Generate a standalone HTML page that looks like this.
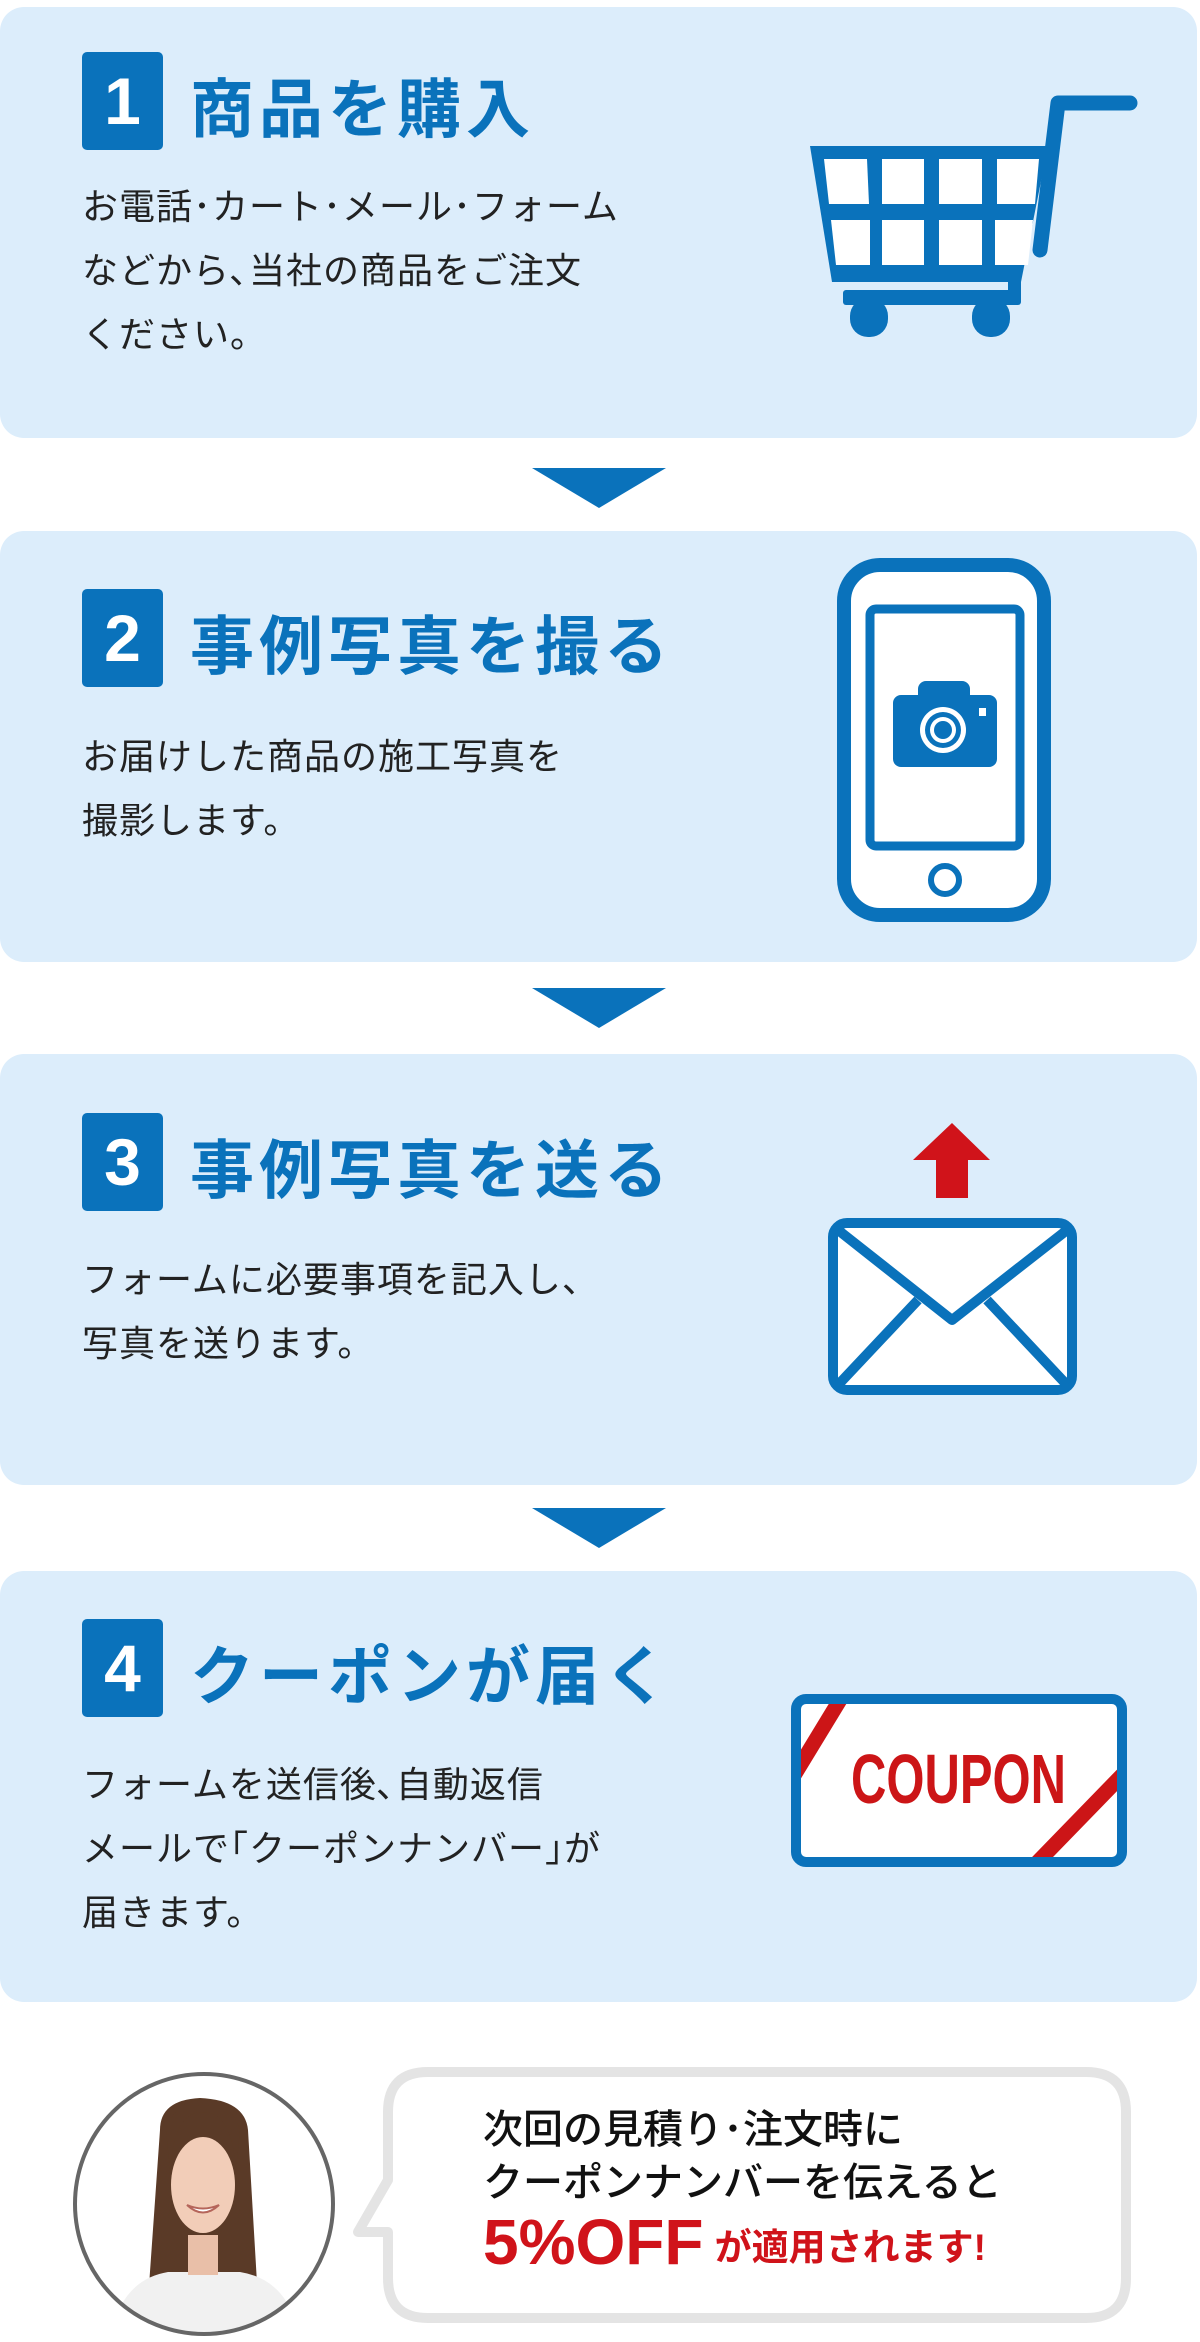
<!DOCTYPE html>
<html><head><meta charset="utf-8">
<style>
*{margin:0;padding:0;box-sizing:border-box}
body{width:1200px;height:2342px;background:#fff;position:relative;overflow:hidden;font-family:"Liberation Sans","Noto Sans CJK JP",sans-serif}
.box{position:absolute;left:0;width:1197px;height:431px;background:#dcedfb;border-radius:24px}
.badge{position:absolute;left:82px;width:81px;height:98px;background:#0a72bb;border-radius:5px;color:#fff;font-weight:bold;font-size:66px;line-height:98px;text-align:center;font-family:"Liberation Sans",sans-serif}
.title{position:absolute;left:190px;font-size:64px;font-weight:bold;color:#0a72bb;letter-spacing:5px;line-height:80px;white-space:nowrap}
.body{position:absolute;left:82px;font-size:36px;color:#222;line-height:64px;white-space:nowrap;letter-spacing:1px}
.arrow{position:absolute;left:532px;width:0;height:0;border-left:67px solid transparent;border-right:67px solid transparent;border-top:40px solid #0a72bb}
svg{position:absolute;left:0;top:0}
.bt{position:absolute;left:483px;white-space:nowrap;color:#111;font-weight:500;font-size:40px;line-height:56px}
</style></head><body>

<div class="box" style="top:7px"></div>
<div class="badge" style="top:52px">1</div>
<div class="title" style="top:70px">商品を購入</div>
<div class="body" style="top:175px">お電話･カート･メール･フォーム<br>などから､当社の商品をご注文<br>ください。</div>

<div class="arrow" style="top:468px"></div>

<div class="box" style="top:531px"></div>
<div class="badge" style="top:589px">2</div>
<div class="title" style="top:607px">事例写真を撮る</div>
<div class="body" style="top:725px">お届けした商品の施工写真を<br>撮影します。</div>

<div class="arrow" style="top:988px"></div>

<div class="box" style="top:1054px"></div>
<div class="badge" style="top:1113px">3</div>
<div class="title" style="top:1131px">事例写真を送る</div>
<div class="body" style="top:1248px">フォームに必要事項を記入し、<br>写真を送ります。</div>

<div class="arrow" style="top:1508px"></div>

<div class="box" style="top:1571px"></div>
<div class="badge" style="top:1619px">4</div>
<div class="title" style="top:1637px">クーポンが届く</div>
<div class="body" style="top:1753px">フォームを送信後､自動返信<br>メールで｢クーポンナンバー｣が<br>届きます。</div>

<svg width="1200" height="2342" viewBox="0 0 1200 2342">
 <defs>
  <clipPath id="c"><ellipse cx="204" cy="2204" rx="129" ry="130"/></clipPath>
  <clipPath id="cp"><rect x="796" y="1699" width="326" height="163" rx="10"/></clipPath>
 </defs>
 <g fill="#0a72bb">
  <polygon points="810,146 1048,146 1021,282 832,282"/>
  <rect x="843" y="290" width="178" height="15" rx="3"/>
  <rect x="1008" y="272" width="13" height="30"/>
  <rect x="850" y="298" width="38" height="39" rx="18"/>
  <rect x="972" y="298" width="38" height="39" rx="18"/>
 </g>
 <path d="M1040,250 L1058,103 L1130,103" stroke="#0a72bb" stroke-width="15" fill="none" stroke-linecap="round" stroke-linejoin="round"/>
 <g fill="#fff">
  <polygon points="824,159 867,159 869,204 829,204"/>
  <rect x="882" y="159" width="42" height="45"/>
  <rect x="939" y="159" width="43" height="45"/>
  <polygon points="997,159 1039,159 1035,204 997,204"/>
  <polygon points="831,220 870,220 870,265 836,265"/>
  <rect x="882" y="220" width="42" height="45"/>
  <rect x="939" y="220" width="43" height="45"/>
  <polygon points="995,220 1033,220 1028,265 995,265"/>
 </g>
 <rect x="844" y="565" width="200" height="350" rx="36" fill="#fff" stroke="#0a72bb" stroke-width="14"/>
 <rect x="870" y="609" width="150" height="237" rx="6" fill="#fff" stroke="#0a72bb" stroke-width="9"/>
 <circle cx="945" cy="880" r="14" fill="#fff" stroke="#0a72bb" stroke-width="6"/>
 <rect x="918" y="681" width="52" height="22" rx="8" fill="#0a72bb"/>
 <rect x="893" y="695" width="104" height="72" rx="8" fill="#0a72bb"/>
 <circle cx="943" cy="730" r="23" fill="#fff"/>
 <circle cx="943" cy="730" r="18" fill="#0a72bb"/>
 <circle cx="943" cy="730" r="13" fill="#fff"/>
 <circle cx="943" cy="730" r="9" fill="#0a72bb"/>
 <rect x="979" y="708" width="7" height="8" fill="#fff"/>
 <polygon points="913,1160 952,1123 990,1160" fill="#d0131a"/>
 <rect x="936" y="1158" width="32" height="40" fill="#d0131a"/>
 <rect x="833" y="1223" width="239" height="167" rx="14" fill="#fff" stroke="#0a72bb" stroke-width="10"/>
 <path d="M838,1230 L952,1320 L1067,1230 M838,1385 L918,1300 M1067,1385 L987,1300" fill="none" stroke="#0a72bb" stroke-width="10" stroke-linejoin="round"/>
 <rect x="796" y="1699" width="326" height="163" rx="10" fill="#fff"/>
 <g stroke="#cc1517" stroke-width="15" clip-path="url(#cp)">
  <line x1="790" y1="1782" x2="846" y2="1690"/>
  <line x1="1028" y1="1872" x2="1130" y2="1767"/>
 </g>
 <rect x="796" y="1699" width="326" height="163" rx="10" fill="none" stroke="#0a72bb" stroke-width="10"/>
 <text x="851" y="1803" font-family="Liberation Sans Narrow, Liberation Sans, sans-serif" font-weight="bold" font-size="70" fill="#cc1517" textLength="215" lengthAdjust="spacingAndGlyphs">COUPON</text>
 <ellipse cx="204" cy="2204" rx="129" ry="130" fill="#fff"/>
 <g clip-path="url(#c)">
  <path d="M160,2130 Q160,2100 200,2098 Q245,2100 248,2130 L258,2300 L240,2320 L168,2320 L148,2300 Z" fill="#5a3a27"/>
  <path d="M110,2340 Q120,2280 168,2272 L240,2272 Q290,2280 300,2340 Z" fill="#f1f1f1"/>
  <rect x="188" y="2235" width="30" height="40" fill="#e9bfa8"/>
  <ellipse cx="203" cy="2185" rx="32" ry="48" fill="#f2cdb8"/>
  <path d="M170,2170 Q174,2112 203,2112 Q232,2112 236,2170 L240,2130 Q230,2100 203,2100 Q176,2100 166,2130 Z" fill="#5a3a27"/>
  <path d="M187,2205 Q203,2220 219,2205 Q203,2212 187,2205 Z" fill="#fff" stroke="#b5655a" stroke-width="2"/>
 </g>
 <ellipse cx="204" cy="2204" rx="129" ry="130" fill="none" stroke="#666" stroke-width="4"/>
 <path d="M428,2072 L1086,2072 Q1126,2072 1126,2112 L1126,2278 Q1126,2318 1086,2318 L428,2318 Q388,2318 388,2278 L388,2232 L358,2232 L388,2180 L388,2112 Q388,2072 428,2072 Z" fill="#fff" stroke="#e4e4e4" stroke-width="10" stroke-linejoin="round"/>
</svg>

<div class="bt" style="top:2102px">次回の見積り･注文時に</div>
<div class="bt" style="top:2155px">クーポンナンバーを伝えると</div>
<div class="bt" style="top:2214px;color:#d0131a;font-weight:bold"><span style="font-size:64px;font-family:'Liberation Sans',sans-serif;vertical-align:-4px">5%OFF</span> <span style="font-size:37px">が適用されます!</span></div>
</body></html>
